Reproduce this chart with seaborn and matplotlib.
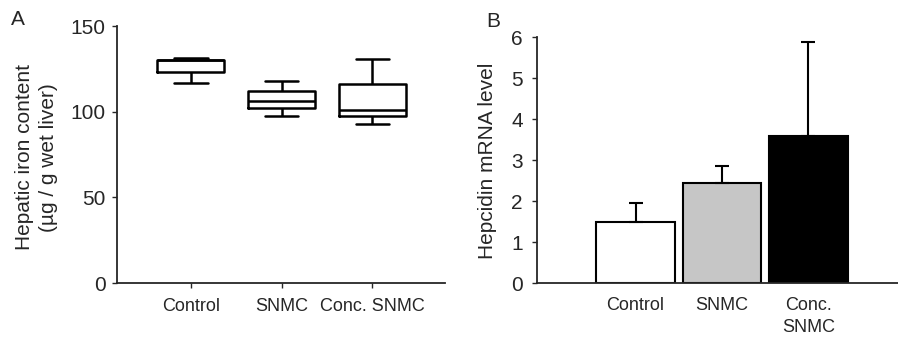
import matplotlib
matplotlib.use("Agg")
import matplotlib.pyplot as plt
import seaborn as sns
import pandas as pd
import numpy as np

# Panel A: box plot five-number summaries
groups = ["Control", "SNMC", "Conc. SNMC"]
control_iron = [116.5, 123.0, 130.0, 130.4, 131.2]
snmc_iron = [97.7, 102.0, 106.2, 112.3, 118.1]
conc_iron = [93.0, 97.5, 101.2, 116.2, 131.0]

# Panel B: bar means and upper SD
bar_groups = ["Control", "SNMC", "Conc.\nSNMC"]
hepcidin_mean = [1.49, 2.44, 3.60]
hepcidin_err = [0.48, 0.42, 2.28]
bar_colors = ["white", "#c6c6c6", "black"]

sns.set_theme(style="ticks")
plt.rcParams["font.family"] = ["Liberation Sans", "DejaVu Sans"]

fig = plt.figure(figsize=(8.98, 3.39), dpi=100)

# ---- Panel A ----
ax1 = fig.add_axes([0.13, 0.165, 0.3655, 0.758])
iron_df = pd.DataFrame({
    "group": np.repeat(groups, 5),
    "iron": control_iron + snmc_iron + conc_iron,
})
sns.boxplot(data=iron_df, x="group", y="iron", order=groups, ax=ax1,
            width=0.74, whis=(0, 100), fill=False, color="black",
            linecolor="black", linewidth=1.8)
ax1.set_ylim(0, 150)
ax1.set_xlim(-0.816, 2.80)
ax1.set_yticks([0, 50, 100, 150])
ax1.set_xlabel("")
ax1.set_ylabel("Hepatic iron content\n(µg / g wet liver)", fontsize=15,
               linespacing=1.3)
ax1.yaxis.set_label_coords(-0.18, 0.49)
ax1.tick_params(axis="y", labelsize=15, length=3.6, width=1, pad=4.5)
ax1.tick_params(axis="x", labelsize=13, length=3.6, width=1, pad=7)
for s in ["left", "bottom"]:
    ax1.spines[s].set_linewidth(1.3)
sns.despine(ax=ax1)
fig.text(0.012, 0.925, "A", fontsize=15)

# ---- Panel B ----
ax2 = fig.add_axes([0.598, 0.164, 0.402, 0.726])
sns.barplot(x=bar_groups, y=hepcidin_mean, order=bar_groups, ax=ax2,
            width=0.907, palette=bar_colors, hue=bar_groups, legend=False,
            edgecolor="black", linewidth=1.5, saturation=1)
ax2.errorbar(bar_groups, hepcidin_mean,
             yerr=[np.zeros(len(hepcidin_err)), hepcidin_err],
             fmt="none", ecolor="black", elinewidth=1.5, capsize=5,
             capthick=1.5, zorder=1)
ax2.set_ylim(0, 6)
ax2.set_xlim(-1.141, 3.038)
ax2.set_yticks(range(7))
ax2.set_ylabel("Hepcidin mRNA level", fontsize=15)
ax2.yaxis.set_label_coords(-0.11, 0.5)
ax2.tick_params(axis="y", labelsize=15, length=3.6, width=1, pad=6.5)
ax2.tick_params(axis="x", labelsize=13, length=0, pad=9.5)
for lbl in ax2.get_xticklabels():
    lbl.set_linespacing(1.4)
for s in ["left", "bottom"]:
    ax2.spines[s].set_linewidth(1.3)
sns.despine(ax=ax2)
fig.text(0.542, 0.92, "B", fontsize=15)

fig.savefig("out.png", dpi=100)
